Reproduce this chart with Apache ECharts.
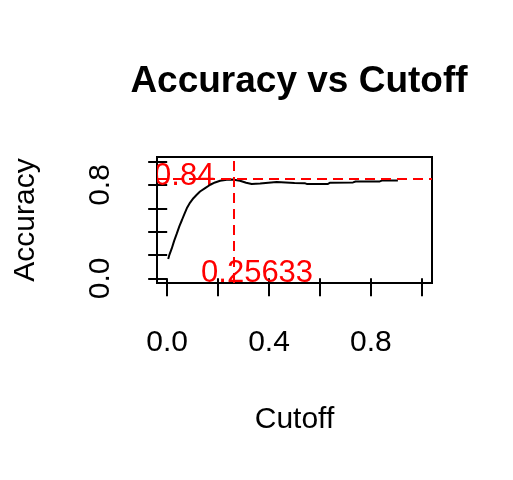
<!DOCTYPE html>
<html lang="en">

<head>
    <meta charset="UTF-8">
    <script src="https://cdn.jsdelivr.net/npm/echarts@6/dist/echarts.min.js"></script>
    <title>Accuracy vs Cutoff</title>
    <style>
        html, body {
            margin: 0;
            padding: 0;
            background: #ffffff;
        }

        #chart {
            width: 513px;
            height: 480px;
        }
    </style>
</head>

<body>
    <div id="chart"></div>

    <script>
        // Accuracy curve
        var cutoffs = [0.004, 0.009, 0.018, 0.027, 0.038, 0.048, 0.058, 0.067, 0.077, 0.090,
            0.103, 0.116, 0.129, 0.149, 0.169, 0.188, 0.208, 0.234, 0.256, 0.286,
            0.310, 0.332, 0.365, 0.430, 0.500, 0.540, 0.550, 0.630, 0.640, 0.730,
            0.740, 0.835, 0.843, 0.906];
        var accuracy = [0.165, 0.204, 0.256, 0.319, 0.385, 0.448, 0.500, 0.549, 0.600, 0.649,
            0.687, 0.716, 0.744, 0.773, 0.802, 0.822, 0.836, 0.845, 0.847, 0.836,
            0.819, 0.808, 0.813, 0.825, 0.818, 0.816, 0.808, 0.808, 0.820, 0.822,
            0.830, 0.831, 0.838, 0.839];

        // best cutoff / max accuracy reference lines
        var bestCutoff = 0.25633;
        var maxAccuracy = 0.847;

        // red annotations: [x, y, text]
        var notes = [
            [0.067, 0.872, '0.84'],
            [0.353, 0.040, '0.25633']
        ];

        // axis ticks and labels
        var xTicks = [0, 0.2, 0.4, 0.6, 0.8, 1.0];
        var xLabels = ['0.0', '0.4', '0.8'];
        var yTicks = [0, 0.2, 0.4, 0.6, 0.8, 1.0];
        var yLabels = ['0.0', '0.8'];

        var FONT = 'Liberation Sans, Arial, sans-serif';

        var chart = echarts.init(document.getElementById('chart'));

        var points = cutoffs.map(function (c, i) { return [c, accuracy[i]]; });

        chart.setOption({
            animation: false,
            title: {
                text: 'Accuracy vs Cutoff',
                left: 294,
                top: 58,
                textAlign: 'center',
                textStyle: { fontFamily: FONT, fontSize: 37, fontWeight: 'bold', color: '#000' }
            },
            grid: {
                left: 157, right: 81, top: 157, bottom: 197,
                show: true,
                borderColor: '#000',
                borderWidth: 2,
                backgroundColor: 'transparent'
            },
            xAxis: {
                type: 'value',
                min: -0.04,
                max: 1.04,
                name: 'Cutoff',
                nameLocation: 'middle',
                nameGap: 122,
                nameTextStyle: { fontFamily: FONT, fontSize: 30, color: '#000' },
                splitLine: { show: false },
                axisLine: { show: false },
                axisTick: {
                    show: true, inside: false, length: 18,
                    customValues: xTicks,
                    lineStyle: { color: '#000', width: 2 }
                },
                axisLabel: {
                    customValues: xLabels.map(Number),
                    formatter: function (v) { return v.toFixed(1); },
                    fontFamily: FONT, fontSize: 30, color: '#000', margin: 45
                }
            },
            yAxis: {
                type: 'value',
                min: -0.04,
                max: 1.04,
                name: 'Accuracy',
                nameLocation: 'middle',
                nameRotate: 90,
                nameGap: 116,
                nameTextStyle: { fontFamily: FONT, fontSize: 30, color: '#000' },
                splitLine: { show: false },
                axisLine: { show: false },
                axisTick: {
                    show: true, inside: false, length: 19,
                    customValues: yTicks,
                    lineStyle: { color: '#000', width: 2 }
                },
                axisLabel: {
                    customValues: yLabels.map(Number),
                    formatter: function (v) { return v.toFixed(1); },
                    rotate: 90,
                    fontFamily: FONT, fontSize: 30, color: '#000', margin: 41
                }
            },
            series: [
                {
                    type: 'line',
                    data: points,
                    showSymbol: false,
                    lineStyle: { color: '#000', width: 2 },
                    markLine: {
                        silent: true,
                        symbol: 'none',
                        label: { show: false },
                        lineStyle: { color: '#ff0000', width: 2, type: [10, 6] },
                        data: [{ xAxis: bestCutoff }, { yAxis: maxAccuracy }]
                    }
                },
                {
                    // labels clipped to the plot region like R's text()
                    type: 'custom',
                    clip: true,
                    data: notes,
                    renderItem: function (params, api) {
                        var p = api.coord([api.value(0), api.value(1)]);
                        return {
                            type: 'text',
                            x: p[0],
                            y: p[1],
                            style: {
                                text: notes[params.dataIndex][2],
                                fill: '#ff0000',
                                font: '31px ' + FONT,
                                align: 'center',
                                verticalAlign: 'middle'
                            }
                        };
                    }
                }
            ]
        });
    </script>
</body>

</html>
